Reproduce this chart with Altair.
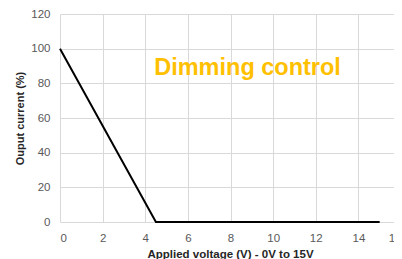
import altair as alt
import pandas as pd

voltage = [0, 4.5, 15]
current = [100, 0, 0]
note_text = ["Dimming control"]
note_x = [8.8]
note_y = [85]
x_ticks = [0, 2, 4, 6, 8, 10, 12, 14, 16]
y_ticks = [0, 20, 40, 60, 80, 100, 120]

df = pd.DataFrame({"v": voltage, "c": current})
notes = pd.DataFrame({"t": note_text, "x": note_x, "y": note_y})

FONT = "Liberation Sans"

# plot area visible width is 334 px; the 0..16 scale spans 341 px so the right edge overflows (cropped like the reference)
xs = alt.Scale(domain=[0, 16], nice=False, range=[0, 341])
ys = alt.Scale(domain=[0, 120], nice=False)

x_axis = alt.Axis(
    values=x_ticks, title="Applied voltage (V) - 0V to 15V",
    grid=True, domain=False, ticks=False, labelOverlap=False,
    labelPadding=10, titlePadding=5, titleX=170, titleFontSize=11.5)
y_axis = alt.Axis(
    values=y_ticks, title="Ouput current (%)",
    grid=True, domain=False, ticks=False, labelOverlap=False,
    labelPadding=10, titlePadding=5)

line = alt.Chart(df).mark_line(color="black", strokeWidth=2).encode(
    x=alt.X("v:Q", scale=xs, axis=x_axis),
    y=alt.Y("c:Q", scale=ys, axis=y_axis),
)

text = alt.Chart(notes).mark_text(
    color="#FFC000", fontSize=23.5, fontWeight="bold", font=FONT, baseline="alphabetic"
).encode(
    x=alt.X("x:Q", scale=xs, axis=x_axis),
    y=alt.Y("y:Q", scale=ys, axis=y_axis),
    text="t:N",
)

chart = (line + text).properties(
    width=334, height=208,
    autosize=alt.AutoSizeParams(type="none"),
    padding={"left": 52, "top": 6, "right": 0, "bottom": 50},
).configure_view(stroke=None).configure_axis(
    gridColor="#d9d9d9", gridWidth=1,
    labelFont=FONT, labelFontSize=11.5, labelColor="#595959",
    titleFont=FONT, titleFontSize=11, titleFontWeight="bold", titleColor="#262626",
)

chart.save("out.html", embed_options={"renderer": "svg", "actions": False})
